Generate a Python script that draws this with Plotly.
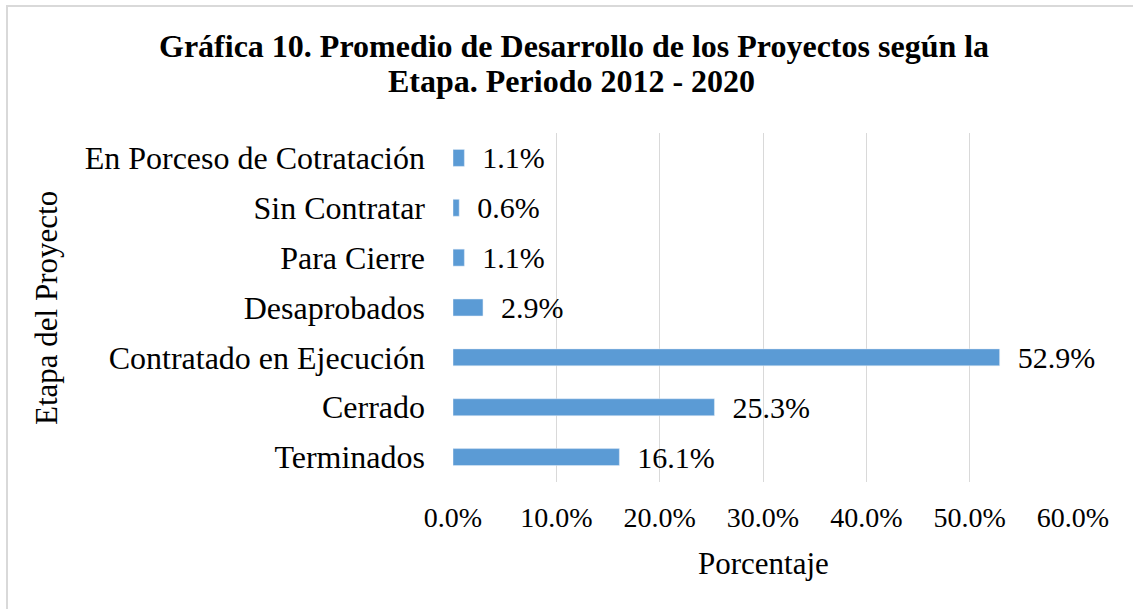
import plotly.graph_objects as go

categories = ["Terminados", "Cerrado", "Contratado en Ejecución", "Desaprobados",
              "Para Cierre", "Sin Contratar", "En Porceso de Cotratación"]
values = [16.1, 25.3, 52.9, 2.9, 1.1, 0.6, 1.1]
x_ticks = [0, 10, 20, 30, 40, 50, 60]
x_tick_labels = ["0.0%", "10.0%", "20.0%", "30.0%", "40.0%", "50.0%", "60.0%"]
title_lines = ["Gráfica 10. Promedio de Desarrollo de los Proyectos según la",
               "Etapa. Periodo 2012 - 2020"]

FONT = "Liberation Serif, Times New Roman, serif"
NB = "\u00a0"

fig = go.Figure(go.Bar(
    y=categories, x=values, orientation="h",
    marker=dict(color="#5B9BD5"),
    width=0.34,
    text=[f"{NB}{NB}{v:.1f}%" for v in values],
    textposition="outside",
    constraintext="none",
    textfont=dict(family=FONT, size=30, color="black"),
    cliponaxis=False,
))

OFF = 0  # body margin removed below
W, H = 1133 - OFF, 609 - OFF
PL, PR, PT, PB = 453, 1073, 133, 482  # plot area in screen pixels
L, R, T, B = PL - OFF, W - (PR - OFF), PT - OFF, H - (PB - OFF)
pw, ph = W - L - R, H - T - B

def px(x):
    return (x - OFF - L) / pw

def py(y):
    return (H - B - (y - OFF)) / ph

annotations = [
    dict(text=f"<b>{title_lines[0]}</b>", x=px(574), y=py(46), xref="paper", yref="paper",
         xanchor="center", yanchor="middle", showarrow=False,
         font=dict(family=FONT, size=32, color="black")),
    dict(text=f"<b>{title_lines[1]}</b>", x=px(571), y=py(81), xref="paper", yref="paper",
         xanchor="center", yanchor="middle", showarrow=False,
         font=dict(family=FONT, size=32, color="black")),
    dict(text="Etapa del Proyecto", x=px(46), y=py(308), xref="paper", yref="paper",
         xanchor="center", yanchor="middle", showarrow=False, textangle=-90,
         font=dict(family=FONT, size=31, color="black")),
    dict(text="Porcentaje", x=px(763), y=py(563), xref="paper", yref="paper",
         xanchor="center", yanchor="middle", showarrow=False,
         font=dict(family=FONT, size=31, color="black")),
]

fig.update_layout(
    width=W, height=H,
    margin=dict(l=L, r=R, t=T, b=B, autoexpand=False),
    paper_bgcolor="white", plot_bgcolor="white",
    font=dict(family=FONT, color="black"),
    showlegend=False,
    xaxis=dict(
        range=[0, 60], tickvals=x_ticks, ticktext=x_tick_labels,
        showgrid=True, gridcolor="#d9d9d9", gridwidth=1,
        zeroline=False, showline=False, automargin=False,
        tickfont=dict(family=FONT, size=28),
        ticklabelstandoff=16,
    ),
    yaxis=dict(
        showgrid=False, zeroline=False, showline=False, automargin=False,
        tickfont=dict(family=FONT, size=32),
        ticklabelstandoff=27,
    ),
    annotations=annotations,
    shapes=[dict(type="rect", xref="paper", yref="paper",
                 x0=px(7), x1=px(1160), y0=py(640), y1=py(6),
                 line=dict(color="#d9d9d9", width=2), fillcolor="rgba(0,0,0,0)",
                 layer="below")],
)

fig.write_html("out.html",
               config={"displayModeBar": False},
               post_script="document.body.style.margin='0';document.body.style.overflow='hidden';")
